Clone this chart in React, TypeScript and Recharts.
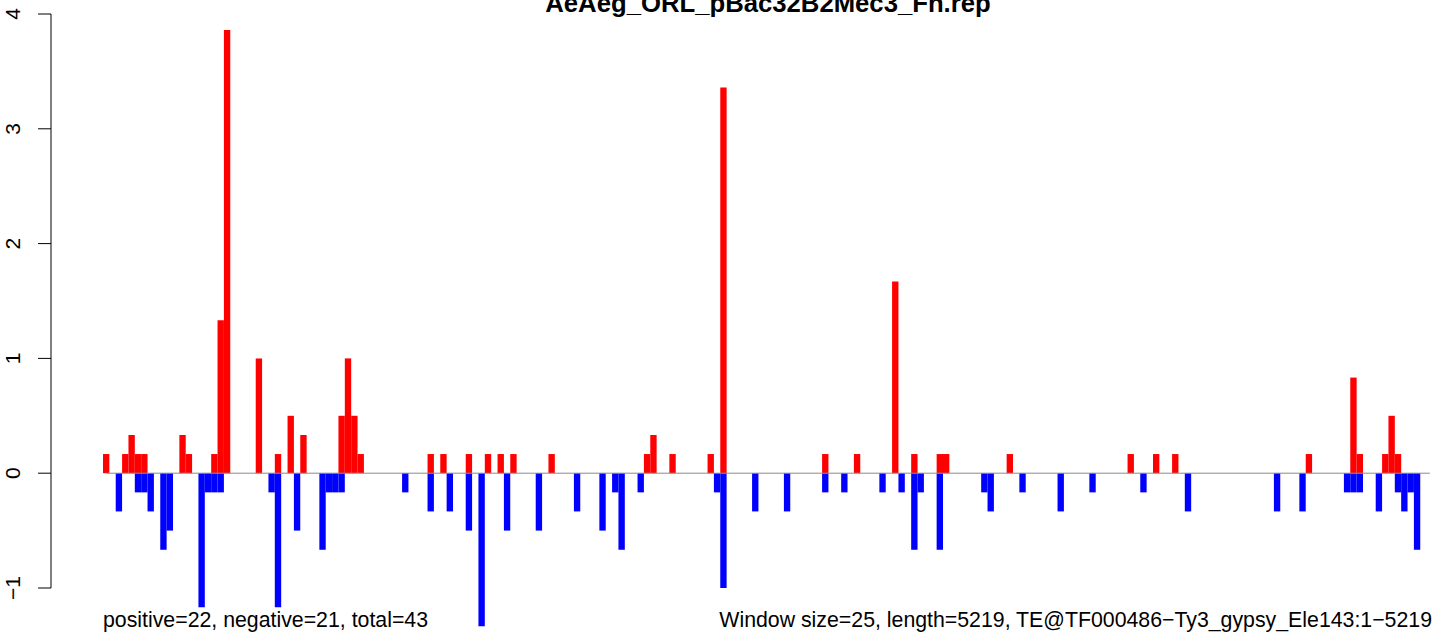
import { BarChart, Bar, XAxis, YAxis, ReferenceLine } from "recharts";

// 5219 bp in windows of 25 bp
const windowCount = 209;

// window index -> value
const positiveWindows = [
  0, 3, 4, 5, 6, 12, 13, 17, 18, 19, 24, 27, 29, 31, 37, 38, 39, 40, 51, 53,
  57, 60, 62, 64, 70, 85, 86, 89, 95, 97, 113, 118, 124, 127, 131, 132, 142,
  161, 165, 168, 189, 196, 197, 201, 202, 203,
];
const positiveValues = [
  0.167, 0.167, 0.333, 0.167, 0.167, 0.333, 0.167, 0.167, 1.333, 3.86, 1,
  0.167, 0.5, 0.333, 0.5, 1, 0.5, 0.167, 0.167, 0.167, 0.167, 0.167, 0.167,
  0.167, 0.167, 0.167, 0.333, 0.167, 0.167, 3.36, 0.167, 0.167, 1.67, 0.167,
  0.167, 0.167, 0.167, 0.167, 0.167, 0.167, 0.167, 0.833, 0.167, 0.167, 0.5,
  0.167,
];

const negativeWindows = [
  2, 5, 6, 7, 9, 10, 15, 16, 17, 18, 26, 27, 30, 34, 35, 36, 37, 47, 51, 54,
  57, 59, 63, 68, 74, 78, 80, 81, 84, 96, 97, 102, 107, 113, 116, 122, 125,
  127, 128, 131, 138, 139, 144, 150, 155, 163, 170, 184, 188, 195, 196, 197,
  200, 203, 204, 205, 206,
];
const negativeValues = [
  -0.333, -0.167, -0.167, -0.333, -0.667, -0.5, -1.167, -0.167, -0.167,
  -0.167, -0.167, -1.167, -0.5, -0.667, -0.167, -0.167, -0.167, -0.167,
  -0.333, -0.333, -0.5, -1.333, -0.5, -0.5, -0.333, -0.5, -0.167, -0.667,
  -0.167, -0.167, -1, -0.333, -0.333, -0.167, -0.167, -0.167, -0.167, -0.667,
  -0.167, -0.667, -0.167, -0.333, -0.167, -0.333, -0.167, -0.167, -0.333,
  -0.333, -0.333, -0.167, -0.167, -0.167, -0.333, -0.167, -0.333, -0.167,
  -0.667,
];

const yTicks = [-1, 0, 1, 2, 3, 4];

const title = "AeAeg_ORL_pBac32B2Mec3_Fn.rep";
const leftNote = "positive=22, negative=21, total=43";
const rightNote =
  "Window size=25, length=5219, TE@TF000486\u2212Ty3_gypsy_Ele143:1\u22125219";

const data = Array.from({ length: windowCount }, (_, i) => ({
  win: i,
  pos: 0,
  neg: 0,
}));
positiveWindows.forEach((w, k) => (data[w].pos = positiveValues[k]));
negativeWindows.forEach((w, k) => (data[w].neg = negativeValues[k]));

const font = "'Liberation Sans', Arial, Helvetica, sans-serif";

// plot box 103..1433 px, one band per window; red and blue share the band
const band = 1330 / windowCount;

const YTick = (props: any) => {
  const { y, payload } = props;
  const label = String(payload.value).replace("-", "\u2212");
  return (
    <text
      x={20}
      y={y}
      transform={`rotate(-90 20 ${y})`}
      textAnchor="middle"
      fontFamily={font}
      fontSize={21}
      fill="#000"
    >
      {label}
    </text>
  );
};

const App = () => {
  return (
    <div style={{ position: "absolute", left: 0, top: 0, background: "#fff" }}>
      {/* bars below -1 run past the plot box, as in the original */}
      <style>{`.recharts-bar-rectangles, .recharts-bar, .recharts-layer { clip-path: none !important; }`}</style>
      <BarChart
        width={1444}
        height={636}
        data={data}
        barCategoryGap={0}
        barGap={-band - 0.01}
        barSize={band}
        margin={{ top: 14, right: 11, bottom: 48, left: 0 }}
      >
        <XAxis dataKey="win" hide padding={{ left: 52, right: 0 }} />
        <YAxis
          width={51}
          domain={[-1, 4]}
          ticks={yTicks}
          tickSize={13}
          tick={<YTick />}
          axisLine={{ stroke: "#000", strokeWidth: 1 }}
          tickLine={{ stroke: "#000", strokeWidth: 1 }}
          allowDataOverflow
        />
        <ReferenceLine
          segment={[
            { x: 0, y: 0 },
            { x: windowCount - 1, y: 0 },
          ]}
          stroke="#8a8a8a"
          strokeWidth={1}
        />
        <Bar dataKey="pos" fill="#ff0000" isAnimationActive={false} />
        <Bar dataKey="neg" fill="#0000ff" isAnimationActive={false} />
        <text
          x={768}
          y={11.5}
          textAnchor="middle"
          fontFamily={font}
          fontWeight="bold"
          fontSize={25.7}
          fill="#000"
        >
          {title}
        </text>
        <text x={103} y={627} fontFamily={font} fontSize={21.3} fill="#000">
          {leftNote}
        </text>
        <text
          x={1432}
          y={627}
          textAnchor="end"
          fontFamily={font}
          fontSize={21.3}
          fill="#000"
        >
          {rightNote}
        </text>
      </BarChart>
    </div>
  );
};

export default App;
